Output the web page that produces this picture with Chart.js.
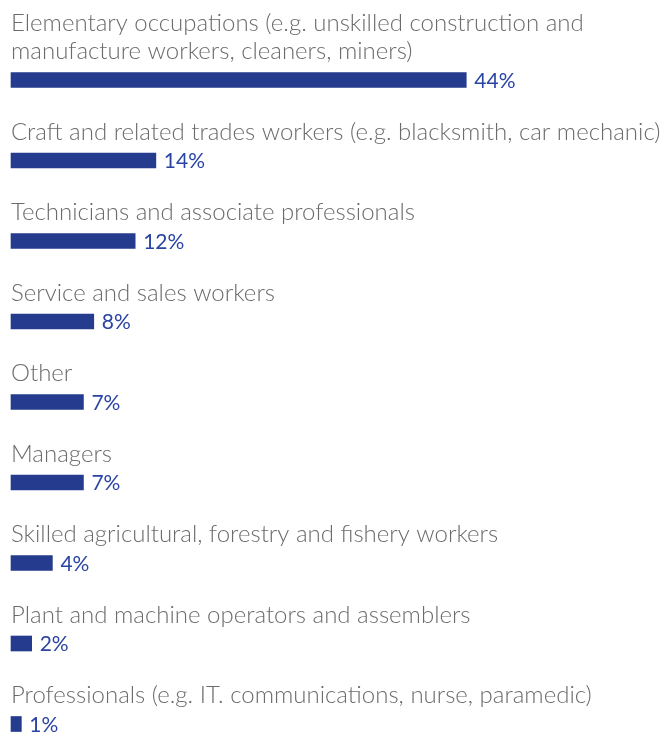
<!DOCTYPE html>
<html>
<head>
<meta charset="utf-8">
<script src="https://cdn.jsdelivr.net/npm/chart.js@4.4.1/dist/chart.umd.min.js"></script>
<style>
  html, body { margin: 0; padding: 0; background: #ffffff; }
  #wrap { position: relative; width: 667px; height: 742px; }
</style>
</head>
<body>
<div id="wrap"><canvas id="occupation-chart"></canvas></div>
<script>
// category labels (arrays = wrapped lines)
var occupations = [
    ['Elementary occupations (e.g. unskilled construction and', 'manufacture workers, cleaners, miners)'],
    'Craft and related trades workers (e.g. blacksmith, car mechanic)',
    'Technicians and associate professionals',
    'Service and sales workers',
    'Other',
    'Managers',
    'Skilled agricultural, forestry and fishery workers',
    'Plant and machine operators and assemblers',
    'Professionals (e.g. IT. communications, nurse, paramedic)'
];
var shares = [44, 14, 12, 8, 7, 7, 4, 2, 1];

var labelFont = '300 24px Lato, "Open Sans", sans-serif';
var valueFont = '400 21px Lato, "Open Sans", sans-serif';

// draws the category text above each bar and the % after it
var barLabels = {
    id: 'barLabels',
    afterDatasetsDraw: function(chart) {
        var ctx = chart.ctx;
        var meta = chart.getDatasetMeta(0);
        var left = chart.chartArea.left;
        ctx.save();
        meta.data.forEach(function(bar, i) {
            var lines = [].concat(occupations[i]);
            ctx.font = labelFont;
            ctx.fillStyle = '#6b6b6b';
            ctx.textAlign = 'left';
            ctx.textBaseline = 'alphabetic';
            for (var k = 0; k < lines.length; k++) {
                var y = bar.y - 21 - (lines.length - 1 - k) * 28;
                ctx.fillText(lines[k], left, y);
            }
            ctx.font = valueFont;
            ctx.fillStyle = '#2a44a3';
            ctx.textBaseline = 'middle';
            ctx.fillText(shares[i] + '%', bar.x + 8, bar.y + 1);
        });
        ctx.restore();
    }
};

new Chart(document.getElementById('occupation-chart'), {
    type: 'bar',
    data: {
        labels: occupations,
        datasets: [{
            data: shares,
            backgroundColor: '#243b8e',
            barThickness: 15,
            borderSkipped: false,
            clip: false
        }]
    },
    options: {
        indexAxis: 'y',
        responsive: true,
        maintainAspectRatio: false,
        animation: false,
        layout: { padding: { top: 80, bottom: 18, left: 11, right: 0 } },
        scales: {
            x: { display: false, min: 0, max: 63.4 },
            y: { display: false, offset: false }
        },
        plugins: {
            legend: { display: false },
            tooltip: { enabled: false }
        }
    },
    plugins: [barLabels]
});
</script>
</body>
</html>
